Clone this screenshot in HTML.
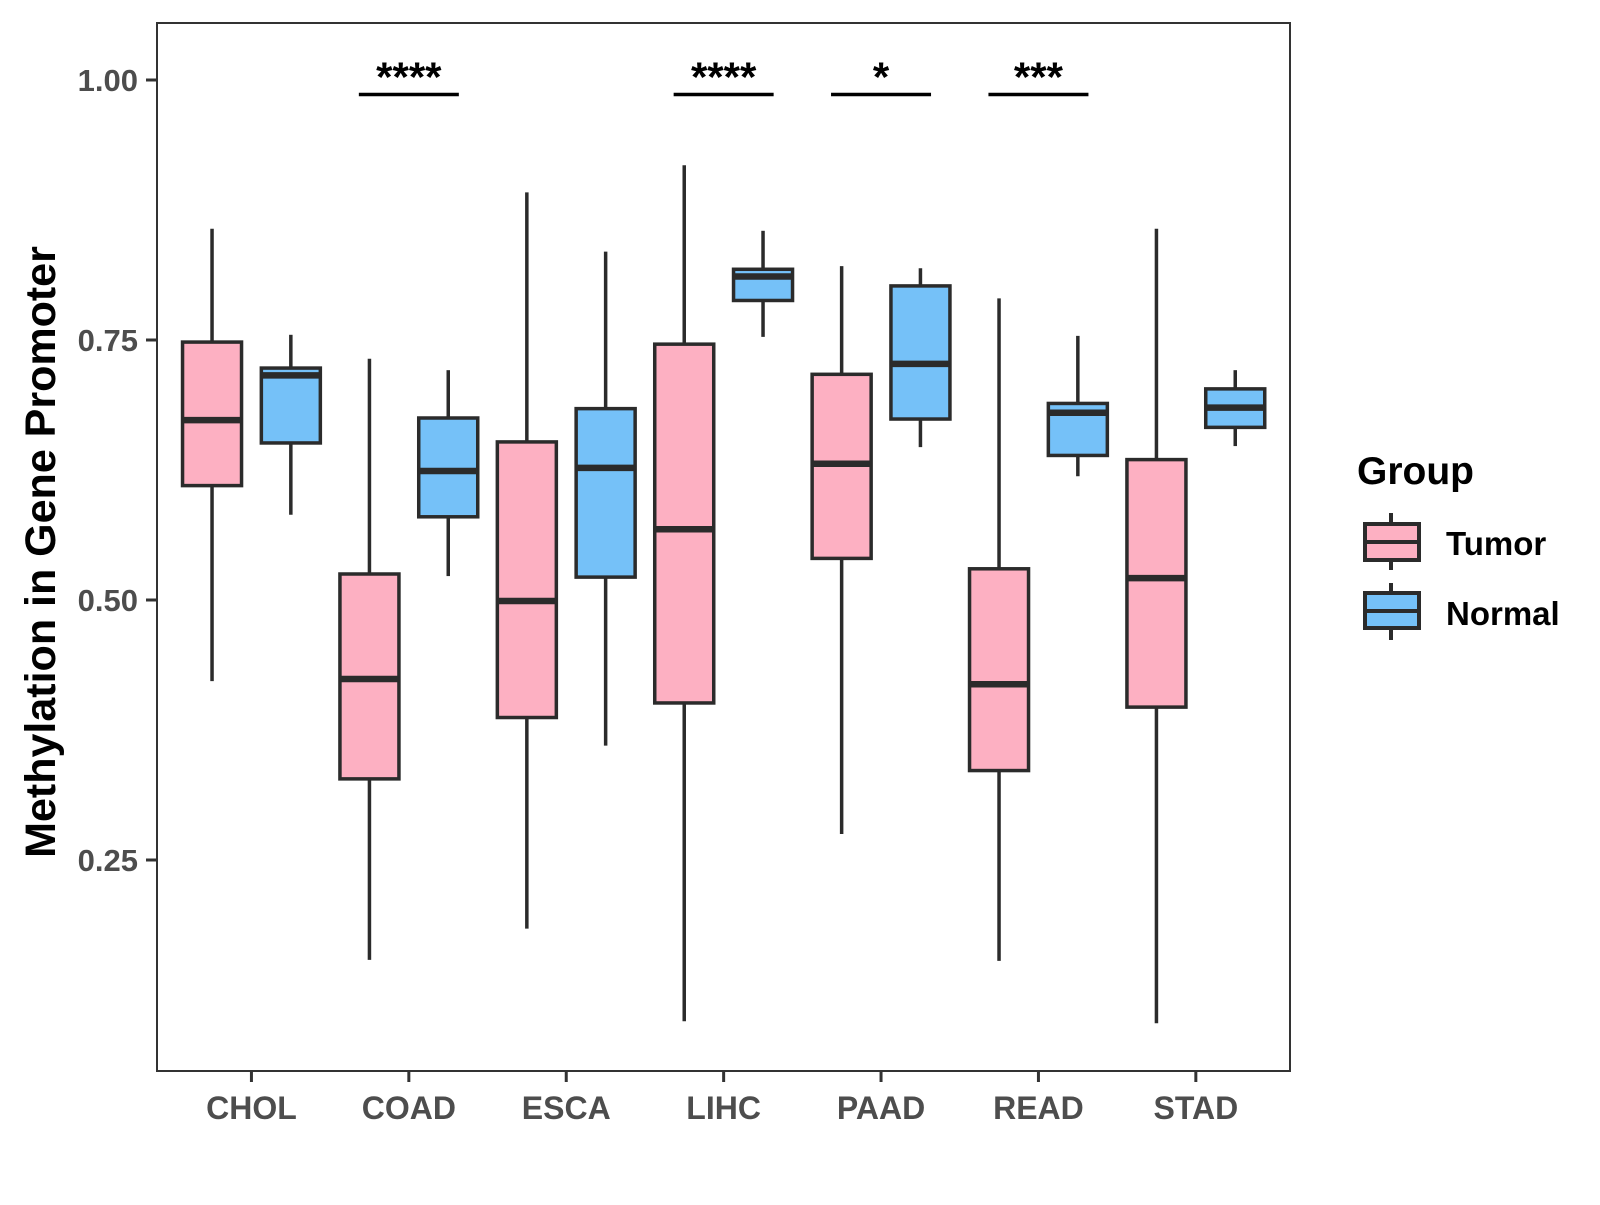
<!DOCTYPE html>
<html><head><meta charset="utf-8"><style>
html,body{margin:0;padding:0;background:#fff}
svg text{font-family:"Liberation Sans",Arial,sans-serif;font-weight:bold}
</style></head><body>
<svg id="chart" width="1600" height="1200" xmlns="http://www.w3.org/2000/svg">
<rect x="157" y="23" width="1133" height="1048" fill="#fff" stroke="#333" stroke-width="2"/>
<g id="marks"></g>
<text transform="translate(55,552) rotate(-90)" text-anchor="middle" font-size="43" fill="#000">Methylation in Gene Promoter</text>
<text x="1357" y="484" font-size="39" fill="#000">Group</text>
<g>
<line x1="1391" y1="513" x2="1391" y2="570" stroke="#2b2b2b" stroke-width="4"/>
<rect x="1365" y="524" width="54" height="36" fill="#FDB0C2" stroke="#2b2b2b" stroke-width="4"/>
<line x1="1365" y1="542" x2="1419" y2="542" stroke="#2b2b2b" stroke-width="4"/>
<text x="1446" y="555" font-size="33" fill="#000">Tumor</text>
</g>
<g>
<line x1="1391" y1="583" x2="1391" y2="640" stroke="#2b2b2b" stroke-width="4"/>
<rect x="1365" y="593" width="54" height="35" fill="#75C1F8" stroke="#2b2b2b" stroke-width="4"/>
<line x1="1365" y1="611" x2="1419" y2="611" stroke="#2b2b2b" stroke-width="4"/>
<text x="1446" y="625" font-size="33" fill="#000">Normal</text>
</g>
</svg>
<script>
const categories=["CHOL","COAD","ESCA","LIHC","PAAD","READ","STAD"];
const tumorStats=[[0.422,0.610,0.673,0.748,0.857],[0.154,0.328,0.424,0.525,0.732],[0.184,0.387,0.499,0.652,0.892],[0.095,0.401,0.568,0.746,0.918],[0.275,0.540,0.631,0.717,0.821],[0.153,0.336,0.419,0.530,0.790],[0.093,0.397,0.521,0.635,0.857]];
const normalStats=[[0.582,0.651,0.716,0.723,0.755],[0.523,0.580,0.624,0.675,0.721],[0.360,0.522,0.627,0.684,0.835],[0.753,0.788,0.811,0.818,0.855],[0.647,0.674,0.727,0.802,0.819],[0.619,0.639,0.680,0.689,0.754],[0.648,0.666,0.685,0.703,0.721]];
const yTicks=[0.25,0.50,0.75,1.00];
const yTickLabels=["0.25","0.50","0.75","1.00"];
const sigCategories=["COAD","LIHC","PAAD","READ"];
const sigLabels=["****","****","*","***"];
const sigValue=0.988;

const NS="http://www.w3.org/2000/svg";
const g=document.getElementById('marks');
const svg=document.getElementById('chart');
function y(v){return 80+(1-v)*1040;}
function x(i){return 157+(i+0.6)*157.4;}
function mk(t,a,p){const e=document.createElementNS(NS,t);for(const k in a)e.setAttribute(k,a[k]);(p||g).appendChild(e);return e;}
yTicks.forEach((v,i)=>{
  const t=mk('line',{x1:146,x2:157,y1:y(v),y2:y(v),stroke:'#333','stroke-width':3},svg);
  
  
  const l=mk('text',{x:138,y:y(v)+11,'text-anchor':'end','font-size':31,fill:'#4d4d4d'},svg);
  l.textContent=yTickLabels[i];
  
  
});
categories.forEach((c,i)=>{
  const t=mk('line',{x1:x(i),x2:x(i),y1:1071,y2:1082,stroke:'#333','stroke-width':3},svg);
  
  
  const l=mk('text',{x:x(i),y:1119,'text-anchor':'middle','font-size':32,fill:'#4d4d4d'},svg);
  l.textContent=c;
  
  
});
function box(cx,s,fill,name){
  const grp=mk('g',{});
  
  
  const hw=29.5;
  mk('line',{x1:cx,x2:cx,y1:y(s[4]),y2:y(s[3]),stroke:'#2b2b2b','stroke-width':3.5},grp);
  mk('line',{x1:cx,x2:cx,y1:y(s[1]),y2:y(s[0]),stroke:'#2b2b2b','stroke-width':3.5},grp);
  mk('rect',{x:cx-hw,y:y(s[3]),width:2*hw,height:y(s[1])-y(s[3]),fill:fill,stroke:'#2b2b2b','stroke-width':3.5},grp);
  mk('line',{x1:cx-hw,x2:cx+hw,y1:y(s[2]),y2:y(s[2]),stroke:'#2b2b2b','stroke-width':6.5},grp);
}
categories.forEach((c,i)=>{
  box(x(i)-39.4,tumorStats[i],'#FDB0C2','box-'+c.toLowerCase()+'-tumor');
  box(x(i)+39.4,normalStats[i],'#75C1F8','box-'+c.toLowerCase()+'-normal');
});
sigCategories.forEach((c,k)=>{
  const i=categories.indexOf(c);
  const l=mk('line',{x1:x(i)-50,x2:x(i)+50,y1:y(sigValue)+2,y2:y(sigValue)+2,stroke:'#000','stroke-width':3.5});
  
  
  const t=mk('text',{x:x(i),y:y(sigValue)-1,'text-anchor':'middle','font-size':42,fill:'#000'});
  t.textContent=sigLabels[k];
  
  
});
</script>
</body></html>
